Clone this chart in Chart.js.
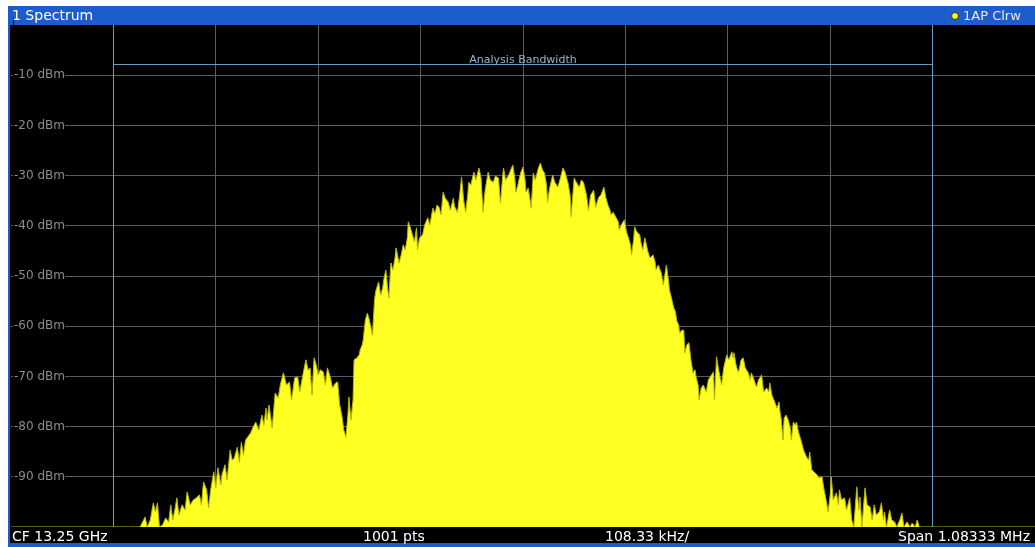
<!DOCTYPE html>
<html><head><meta charset="utf-8">
<script src="https://cdn.jsdelivr.net/npm/chart.js@4/dist/chart.umd.min.js"></script>
<style>
html,body{margin:0;padding:0;background:#fff;}
#wrap{position:relative;width:1035px;height:547px;overflow:hidden;font-family:'DejaVu Sans',sans-serif;}
#frame{position:absolute;left:8px;top:6px;width:1027px;height:541px;background:#1e5ccc;}
#plotbg{position:absolute;left:10px;top:25px;width:1025px;height:518px;background:#000;}
#c{position:absolute;left:0;top:0;}
.t{position:absolute;white-space:nowrap;}
#dot{position:absolute;left:951px;top:12px;width:8px;height:8px;border-radius:50%;background:#ffff10;border:1px solid #2a2a2a;box-sizing:border-box;}
</style></head><body>
<div id="wrap">
<div id="frame"></div>
<div id="plotbg"></div>
<canvas id="c" width="1035" height="547"></canvas>
<div class="t" style="left:12px;top:6px;line-height:19px;font-size:14px;color:#fff">1 Spectrum</div>
<div id="dot"></div>
<div class="t" style="left:963px;top:6px;line-height:19px;font-size:13px;color:#e8e8e8">1AP Clrw</div>
<div class="t" style="left:12px;top:528px;line-height:16px;font-size:14px;color:#fff">CF 13.25 GHz</div>
<div class="t" style="left:363px;top:528px;line-height:16px;font-size:14px;color:#fff">1001 pts</div>
<div class="t" style="left:605px;top:528px;line-height:16px;font-size:14px;color:#fff">108.33 kHz/</div>
<div class="t" style="right:5px;top:528px;line-height:16px;font-size:14px;color:#fff">Span 1.08333 MHz</div>
</div>
<script>
// Trace point index (0..1000 of 1001 pts) and level in dBm
const freqIndex = [0,126,131,133,136,139,141,143,145,148,151,154,156,158,160,162,164,167,170,172,175,178,181,184,186,188,191,193,195,198,200,202,205,206,209,211,214,216,218,221,223,225,227,229,231,234,236,239,242,245,247,249,250,252,255,258,261,263,266,269,272,274,277,280,282,285,288,290,292,294,296,298,300,302,305,307,309,312,314,317,319,321,323,325,327,329,330,332,334,335,338,340,341,343,344,346,348,350,352,353,355,356,358,359,361,363,364,366,368,369,371,373,375,376,378,379,381,383,385,387,388,390,392,394,396,397,399,402,404,407,409,412,414,416,418,420,422,424,427,429,432,433,436,438,440,442,444,446,447,449,452,454,457,459,461,463,466,468,471,473,476,477,478,480,481,483,486,488,490,492,493,495,496,498,500,502,503,505,507,508,510,512,515,517,519,521,523,524,526,529,531,534,536,539,541,544,546,547,549,550,552,555,557,559,562,564,566,569,570,571,573,574,576,579,581,583,585,586,588,591,593,594,596,599,601,603,605,606,608,609,611,614,615,617,619,622,624,627,629,630,632,635,637,640,642,643,645,647,649,650,652,653,655,657,658,660,662,664,666,668,669,671,672,674,676,679,681,684,686,687,689,691,694,696,699,701,704,705,706,708,710,711,713,715,717,720,722,723,725,728,730,733,735,738,740,741,743,745,748,750,751,752,754,755,757,759,761,762,764,766,767,769,772,774,777,779,780,782,785,787,789,792,794,796,798,800,801,803,806,808,809,811,814,816,819,821,823,826,828,829,831,834,836,839,841,843,845,848,850,852,853,855,858,860,863,865,868,870,872,875,878,880,883,885,887,1000];
const levelDbm = [-100,-100,-98.0,-100,-98.6,-95.2,-97.0,-95.2,-100,-99.6,-98.2,-99.0,-95.6,-98.6,-96.6,-94.2,-97.6,-95.6,-96.6,-93.0,-95.6,-94.6,-94.2,-93.6,-95.6,-91.0,-92.6,-96.2,-92.6,-89.0,-92.2,-88.2,-91.6,-89.6,-87.6,-90.6,-84.7,-86.7,-86.3,-84.1,-87.1,-83.1,-85.7,-82.7,-82.1,-81.3,-80.3,-79.1,-80.7,-77.7,-79.7,-76.3,-78.7,-75.7,-80.3,-73.3,-74.3,-71.7,-69.3,-71.7,-71.1,-74.7,-70.3,-70.1,-73.1,-69.7,-66.7,-68.7,-68.3,-73.7,-66.3,-67.7,-69.7,-68.7,-69.1,-71.7,-68.3,-70.3,-72.3,-71.3,-71.1,-75.7,-77.7,-80.7,-82.1,-77.7,-74.1,-78.7,-74.7,-66.7,-66.3,-65.7,-64.7,-63.7,-62.7,-58.8,-57.4,-58.8,-60.8,-61.8,-54.8,-53.2,-51.8,-51.2,-53.8,-52.4,-50.8,-48.8,-52.8,-54.4,-47.4,-48.8,-46.4,-44.4,-46.4,-47.4,-45.8,-43.8,-44.8,-42.4,-39.2,-40.4,-41.8,-43.2,-40.4,-44.8,-42.4,-41.8,-39.8,-38.4,-39.8,-36.5,-37.5,-35.9,-36.3,-37.8,-33.3,-34.5,-35.3,-36.9,-34.5,-36.1,-37.3,-34.1,-30.3,-34.9,-37.3,-33.9,-31.3,-31.9,-29.3,-30.9,-28.5,-30.5,-37.3,-32.9,-29.3,-30.9,-31.3,-30.1,-30.5,-32.9,-35.5,-30.5,-28.5,-30.9,-29.9,-28.9,-27.9,-30.5,-33.3,-31.9,-30.9,-29.3,-28.3,-30.9,-33.3,-32.5,-34.9,-36.5,-29.5,-30.9,-28.5,-27.5,-28.9,-29.5,-31.9,-35.3,-32.5,-29.9,-31.3,-32.3,-30.9,-28.5,-29.3,-31.5,-33.9,-38.2,-32.9,-30.5,-31.3,-32.3,-30.9,-31.3,-33.9,-36.9,-33.9,-32.9,-34.5,-36.3,-34.9,-34.3,-33.9,-32.3,-34.5,-35.9,-36.9,-37.8,-37.3,-38.4,-39.2,-40.8,-39.8,-38.8,-41.2,-42.4,-43.8,-45.8,-42.8,-40.2,-41.2,-41.8,-43.2,-44.8,-42.4,-45.2,-46.4,-45.8,-47.2,-48.8,-47.8,-49.4,-51.8,-47.8,-50.8,-52.8,-54.4,-56.2,-57.2,-58.8,-59.8,-61.4,-60.8,-60.8,-65.3,-63.7,-63.3,-66.7,-69.3,-68.7,-70.1,-71.7,-74.7,-72.3,-71.7,-73.1,-70.7,-69.7,-69.1,-74.7,-66.1,-68.7,-71.7,-68.3,-65.7,-66.7,-65.1,-66.3,-65.3,-67.7,-69.1,-68.7,-66.7,-66.3,-68.3,-69.3,-70.7,-69.3,-70.3,-72.1,-70.7,-69.7,-73.1,-72.3,-73.1,-71.3,-73.7,-74.7,-76.3,-75.1,-77.1,-78.3,-82.7,-78.3,-77.7,-78.7,-80.3,-82.7,-79.1,-79.7,-79.1,-81.1,-83.1,-84.7,-86.1,-86.7,-85.1,-88.6,-89.2,-89.6,-90.2,-90.0,-92.6,-94.6,-97.0,-93.6,-90.0,-94.6,-93.2,-95.6,-92.6,-94.6,-94.2,-96.6,-94.2,-98.6,-100,-92.0,-96.6,-94.0,-100,-92.2,-95.6,-96.0,-98.6,-95.6,-97.6,-97.0,-95.2,-98.6,-97.0,-100,-96.6,-98.6,-99.0,-100,-98.6,-97.2,-100,-99.0,-100,-99.2,-100,-98.6,-100,-100];

// Axis setup
const yTickValues = [-10,-20,-30,-40,-50,-60,-70,-80,-90];
const yUnit = 'dBm';
// Analysis bandwidth marker (point index range) and its label
const abRange = [100, 900];
const abLabel = 'Analysis Bandwidth';

const GRID = '#5c5c5c';
const AB_COLOR = '#6a9cc4';

const abPlugin = {
  id: 'ab',
  beforeDatasetsDraw(chart) {
    const {ctx, chartArea: a, scales: {x, y}} = chart;
    const x1 = Math.floor(x.getPixelForValue(abRange[0])) + 0.5;
    const x2 = Math.floor(x.getPixelForValue(abRange[1])) + 0.5;
    const yl = Math.round(y.getPixelForValue(-7.8)) + 0.5;
    ctx.save();
    ctx.strokeStyle = AB_COLOR;
    ctx.lineWidth = 1;
    ctx.beginPath();
    ctx.moveTo(x1, a.top); ctx.lineTo(x1, a.bottom);
    ctx.moveTo(x2, a.top); ctx.lineTo(x2, a.bottom);
    ctx.moveTo(x1, yl); ctx.lineTo(x2, yl);
    ctx.stroke();
    ctx.fillStyle = '#9cb3cc';
    ctx.font = '11px "DejaVu Sans"';
    ctx.textAlign = 'center';
    ctx.textBaseline = 'alphabetic';
    ctx.fillText(abLabel, (x1 + x2) / 2, yl - 2);
    ctx.restore();
  }
};

new Chart(document.getElementById('c'), {
  type: 'line',
  data: {
    datasets: [{
      data: freqIndex.map((v, i) => ({x: v, y: levelDbm[i]})),
      borderColor: '#b8b800',
      borderWidth: 1,
      backgroundColor: '#ffff22',
      fill: 'start',
      pointRadius: 0,
      tension: 0
    }]
  },
  options: {
    responsive: false,
    devicePixelRatio: 1,
    animation: false,
    layout: {padding: {left: 11, top: 25, right: 0, bottom: 20}},
    plugins: {legend: {display: false}, tooltip: {enabled: false}},
    scales: {
      x: {
        type: 'linear', min: 0, max: 1000,
        afterFit(s) { s.height = 0; },
        border: {display: false},
        grid: {
          drawTicks: false,
          color: c => (c.tick && (c.tick.value === 0 || c.tick.value === 1000)) ? 'rgba(0,0,0,0)' : GRID
        },
        ticks: {display: false, stepSize: 100}
      },
      y: {
        min: -100, max: 0,
        afterFit(s) { s.width = 0; },
        border: {display: false},
        grid: {
          drawTicks: false,
          color: c => (c.tick && yTickValues.includes(c.tick.value)) ? GRID : 'rgba(0,0,0,0)'
        },
        ticks: {
          stepSize: 10,
          mirror: true,
          padding: 3,
          color: '#8c8c8c',
          font: {family: 'DejaVu Sans', size: 12},
          showLabelBackdrop: true,
          backdropColor: '#000',
          backdropPadding: {left: 1, right: 0, top: 0, bottom: 0},
          callback: v => yTickValues.includes(v) ? v + ' ' + yUnit : ''
        }
      }
    }
  },
  plugins: [abPlugin]
});
</script>
</body></html>
